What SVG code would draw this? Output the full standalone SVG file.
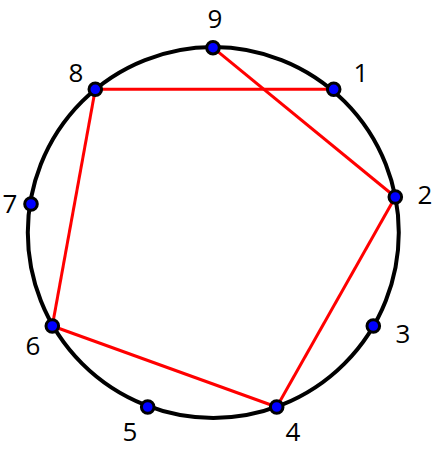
<svg xmlns="http://www.w3.org/2000/svg" width="438" height="452" viewBox="0 0 438 452">
<style>
.c{fill:none;stroke:#000;stroke-width:4}
.e{stroke:#ff0000;stroke-width:3;fill:none}
.d{fill:#0000ff;stroke:#000;stroke-width:3}
.t{font-family:"Open Sans","Liberation Sans",Arial,sans-serif;font-size:26px;fill:#000;text-anchor:middle}
</style>
<rect width="438" height="452" fill="#fff"/>
<circle class="c" cx="213.3" cy="232.5" r="185.5"/>
<g id="connectors">
<line class="e" x1="213" y1="47.7" x2="395.3" y2="197"/>
<line class="e" x1="95.3" y1="89.3" x2="333.7" y2="89.3"/>
<line class="e" x1="95.3" y1="89.3" x2="52.3" y2="326"/>
<line class="e" x1="52.3" y1="326" x2="276.7" y2="407"/>
<line class="e" x1="276.7" y1="407" x2="395.3" y2="197"/>
</g>
<g id="n1"><circle class="d" cx="333.7" cy="89.3" r="6.3"/><text class="t" x="361" y="82">1</text></g>
<g id="n2"><circle class="d" cx="395.3" cy="197" r="6.3"/><text class="t" x="425" y="204">2</text></g>
<g id="n3"><circle class="d" cx="373.3" cy="326" r="6.3"/><text class="t" x="403" y="343">3</text></g>
<g id="n4"><circle class="d" cx="276.7" cy="407" r="6.3"/><text class="t" x="293" y="441">4</text></g>
<g id="n5"><circle class="d" cx="147.7" cy="407" r="6.3"/><text class="t" x="130" y="441">5</text></g>
<g id="n6"><circle class="d" cx="52.3" cy="326" r="6.3"/><text class="t" x="33" y="355">6</text></g>
<g id="n7"><circle class="d" cx="31" cy="204" r="6.3"/><text class="t" x="10" y="213">7</text></g>
<g id="n8"><circle class="d" cx="95.3" cy="89.3" r="6.3"/><text class="t" x="76" y="82">8</text></g>
<g id="n9"><circle class="d" cx="213" cy="47.7" r="6.3"/><text class="t" x="215" y="28">9</text></g>
</svg>
